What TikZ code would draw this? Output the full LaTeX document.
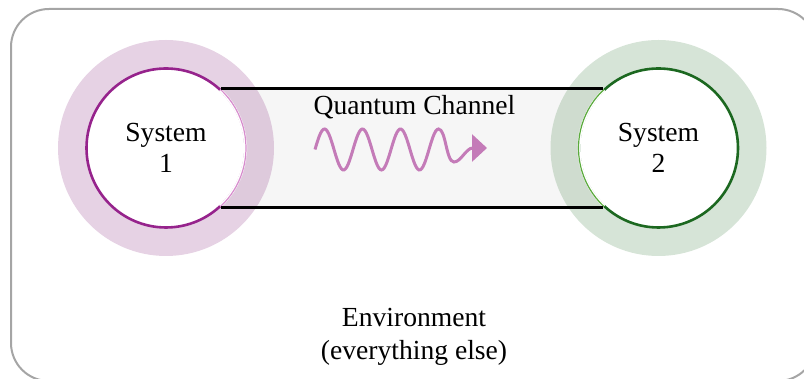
\documentclass[tikz,border=0pt]{standalone}
\usepackage{fontspec}
\setmainfont{Liberation Serif}
\usepackage{tikz}
\usetikzlibrary{arrows.meta}
\definecolor{MoradoSis}{RGB}{150,35,140}
\definecolor{MoradoSuave}{RGB}{215,140,205}
\definecolor{VerdeSis}{RGB}{28,104,32}
\definecolor{VerdeSuave}{RGB}{90,170,60}
\definecolor{RosaOnda}{RGB}{196,123,184}
\definecolor{GrisMarco}{RGB}{165,165,165}
\definecolor{GrisCanal}{RGB}{246,246,246}
\begin{document}
\begin{tikzpicture}[x=0.5pt,y=0.5pt,>=Latex,
  sistema/.style={circle,fill=white,line width=1.3pt,minimum size=79.5pt,inner sep=0pt,
    align=center,font=\fontsize{13.8}{15.5}\selectfont},
  halo/.style={opacity=0.2},
  rotulo/.style={font=\fontsize{13.8}{16.5}\selectfont,align=center}]
  \useasboundingbox (0,0) rectangle (804,379);
  \clip (0,0) rectangle (804,379);
  \draw[GrisMarco,line width=1pt,rounded corners=19pt] (11,-2) rectangle (816,370);
  \coordinate (C1) at (166,231);
  \coordinate (C2) at (658.5,231);
  \fill[GrisCanal] (166,173) rectangle (658.5,289);
  \fill[halo,fill=MoradoSis!85!black] (C1) circle (108);
  \fill[halo,fill=VerdeSis!90!white] (C2) circle (108);
  \node[sistema,draw=MoradoSis] (s1) at (C1) {System\\1};
  \node[sistema,draw=VerdeSis] (s2) at (C2) {System\\2};
  \draw[white,line width=1.6pt] (C1) ++(-47:79.5) arc[start angle=-47,end angle=47,radius=79.5];
  \draw[MoradoSuave,line width=0.6pt] (C1) ++(-47:80) arc[start angle=-47,end angle=47,radius=80];
  \draw[white,line width=1.6pt] (C2) ++(133:79.5) arc[start angle=133,end angle=227,radius=79.5];
  \draw[VerdeSuave,line width=0.6pt] (C2) ++(133:80) arc[start angle=133,end angle=227,radius=80];
  \draw[line width=1.5pt] (s1.47) -- (s2.133);
  \draw[line width=1.5pt] (s1.-47) -- (s2.-133);
  \node[rotulo,anchor=base] (canal) at (414.5,264) {Quantum Channel};
  \draw[RosaOnda,line width=1.5pt,-{Triangle[length=7.5pt,width=13.5pt]}]
    plot[domain=315:438.5,samples=90,smooth] (\x,{229.5+20.5*sin(9.4737*(\x-315))})
    .. controls (446,250) and (446,217) .. (454,217)
    .. controls (461,217) and (466,231) .. (487,231);
  \node[rotulo] (entorno) at (414,42) {Environment\\(everything else)};
\end{tikzpicture}
\end{document}
